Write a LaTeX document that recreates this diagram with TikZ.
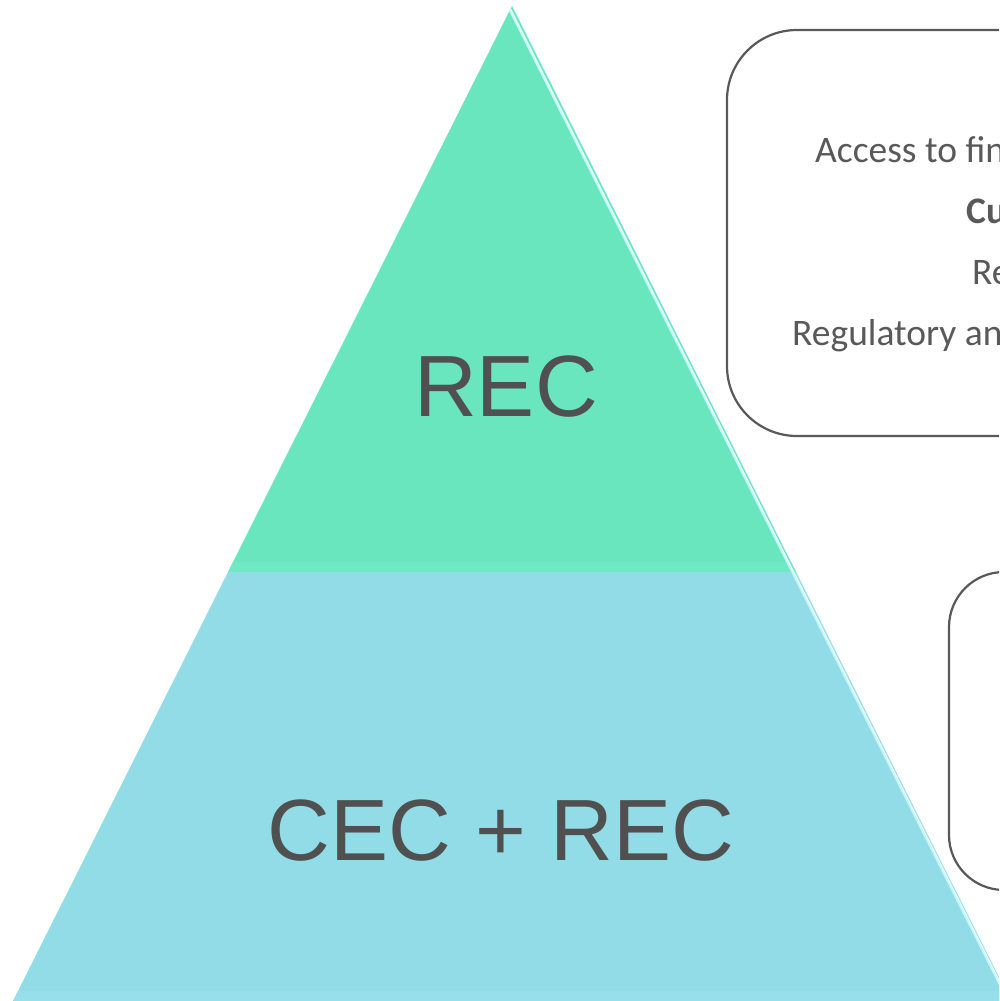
\documentclass[tikz,border=0pt]{standalone}
\usepackage{fontspec}
\setmainfont{Liberation Sans}
\newfontfamily\carlito{Carlito}
\definecolor{recgreen}{HTML}{6AE6BF}
\definecolor{recgreenlt}{HTML}{6FE9C3}
\definecolor{cecblue}{HTML}{92DCE7}
\definecolor{cecbluelt}{HTML}{97DFEA}
\definecolor{edgehl}{HTML}{C4F7F8}
\definecolor{txtgray}{HTML}{505050}
\definecolor{boxgray}{HTML}{595959}
\begin{document}
\begin{tikzpicture}[x=1pt,y=-1pt,
  bigtext/.style={text=txtgray,font=\fontsize{87}{100}\selectfont,inner sep=0pt,anchor=base},
  boxtext/.style={text=boxgray,font=\carlito\fontsize{37.5}{45}\selectfont,inner sep=0pt,anchor=base west},
  infobox/.style={draw=boxgray,line width=2.2pt,fill=white}]
\useasboundingbox (0,0) rectangle (999,1001);
\clip (0,0) rectangle (999,1001);
\fill[white] (0,0) rectangle (999,1001);
% pyramid
\coordinate (apex) at (512,6);
\coordinate (bl) at (13,1001);
\coordinate (br) at (1011,1001);
\coordinate (ml) at (228,572);
\coordinate (mr) at (796,572);
\fill[recgreen] (apex) -- (mr) -- (ml) -- cycle;
\fill[recgreenlt] (233,562) -- (791,562) -- (mr) -- (ml) -- cycle;
\fill[cecblue] (ml) -- (mr) -- (br) -- (bl) -- cycle;
\fill[cecbluelt] (18,991) -- (1006,991) -- (br) -- (bl) -- cycle;
\draw[edgehl,line width=3pt] (510,9.5) -- (1008.5,1001);
\draw[white,line width=0.8pt,opacity=0.8] (510.5,9) -- (1009.5,1001);
% boxes
\draw[infobox,rounded corners=70] (727,30) rectangle (1300,436);
\draw[infobox,rounded corners=55] (949,572) rectangle (1300,890);
% labels
\node[bigtext] (rec) at (506,416) {REC};
\node[bigtext] (cecrec) at (501,860) {CEC + REC};
\node[boxtext] (l1) at (815,162) {Access to fin};
\node[boxtext] (l2) at (966,223) {\bfseries Cu};
\node[boxtext] (l3) at (972,284) {Re};
\node[boxtext] (l4) at (792,345) {Regulatory and};
\end{tikzpicture}
\end{document}
